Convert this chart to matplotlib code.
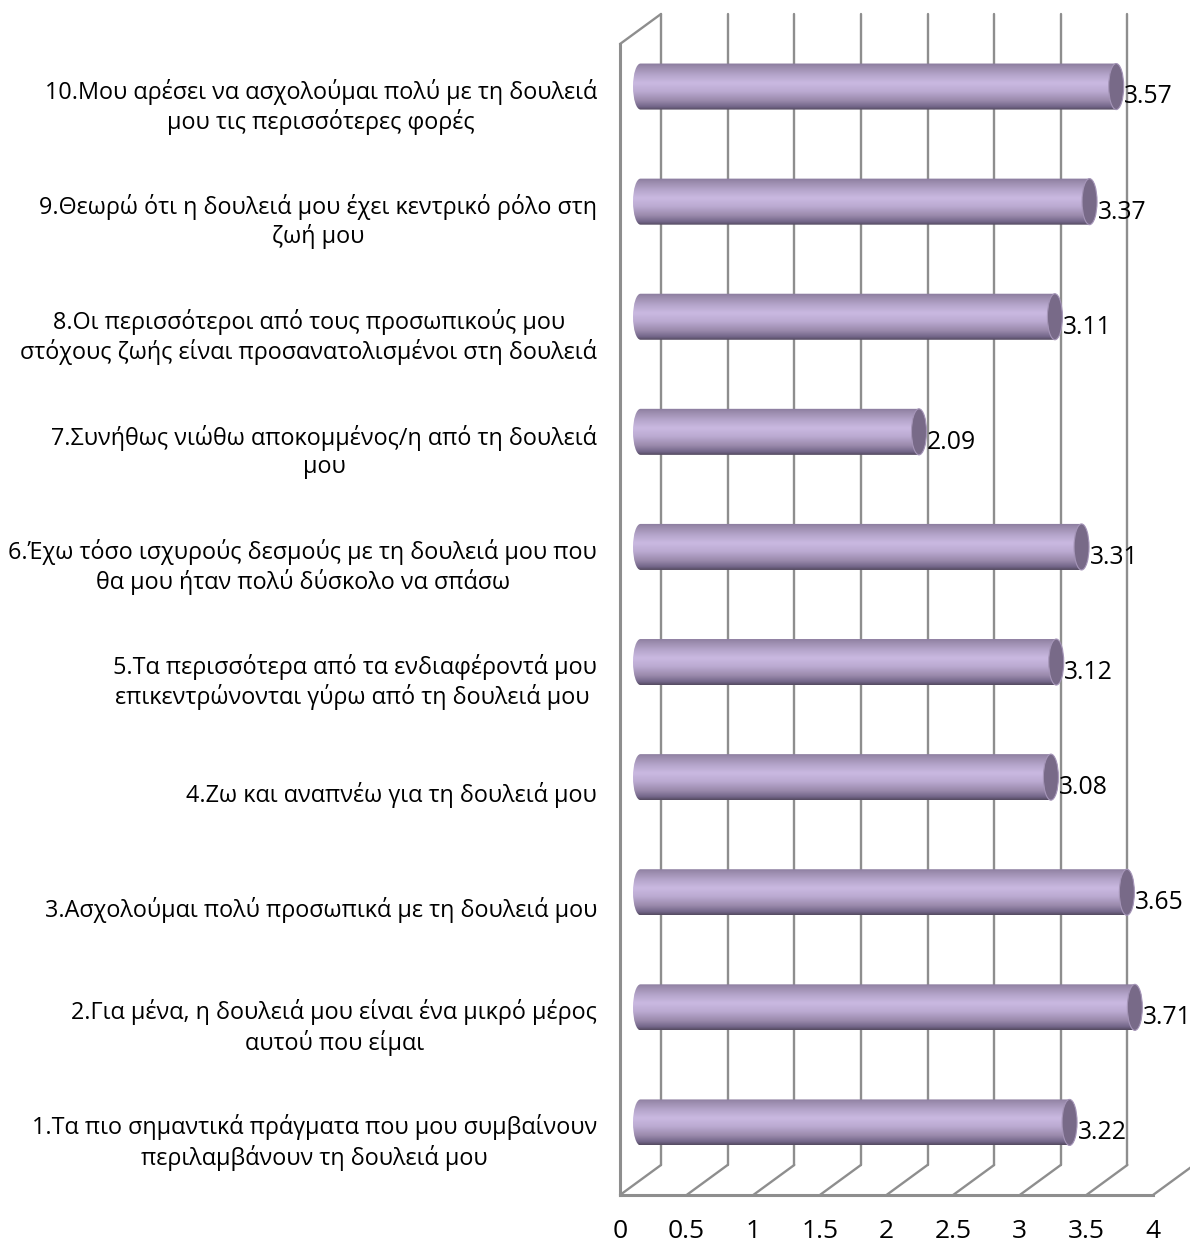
import numpy as np
import matplotlib
matplotlib.use('Agg')
import matplotlib.pyplot as plt
from matplotlib.colors import LinearSegmentedColormap
from matplotlib.patches import Ellipse, PathPatch
from matplotlib.path import Path

labels = [
    "1.Τα πιο σημαντικά πράγματα που μου συμβαίνουν\nπεριλαμβάνουν τη δουλειά μου",
    "2.Για μένα, η δουλειά μου είναι ένα μικρό μέρος\nαυτού που είμαι",
    "3.Ασχολούμαι πολύ προσωπικά με τη δουλειά μου",
    "4.Ζω και αναπνέω για τη δουλειά μου",
    "5.Τα περισσότερα από τα ενδιαφέροντά μου\nεπικεντρώνονται γύρω από τη δουλειά μου ",
    "6.Έχω τόσο ισχυρούς δεσμούς με τη δουλειά μου που\nθα μου ήταν πολύ δύσκολο να σπάσω",
    "7.Συνήθως νιώθω αποκομμένος/η από τη δουλειά\nμου",
    "8.Οι περισσότεροι από τους προσωπικούς μου\nστόχους ζωής είναι προσανατολισμένοι στη δουλειά",
    "9.Θεωρώ ότι η δουλειά μου έχει κεντρικό ρόλο στη\nζωή μου",
    "10.Μου αρέσει να ασχολούμαι πολύ με τη δουλειά\nμου τις περισσότερες φορές",
]
values = [3.22, 3.71, 3.65, 3.08, 3.12, 3.31, 2.09, 3.11, 3.37, 3.57]
x_ticks = [0, 0.5, 1, 1.5, 2, 2.5, 3, 3.5, 4]
x_ticklabels = ['0', '0.5', '1', '1.5', '2', '2.5', '3', '3.5', '4']

W, H = 1190, 1246
plt.rcParams['font.family'] = ['Open Sans', 'DejaVu Sans']

fig = plt.figure(figsize=(W / 100, H / 100), dpi=100, facecolor='white')
# axes box is the front plane of the fake 3d chart
ax = fig.add_axes([620 / W, (H - 1195) / H, 533 / W, 1151 / H], facecolor='none')

# depth of the 3d box in data units
depth_x = 41 / 133.25
depth_y = 30 / 115.1
ymin, ymax = -0.5, 9.5
grid = '#8e8e8e'
gridkw = dict(color=grid, lw=1.7, clip_on=False, zorder=1, solid_capstyle='round')

# walls and floor
for t in x_ticks:
    ax.plot([t, t + depth_x], [ymin, ymin + depth_y], **gridkw)
    if t < 4:
        ax.plot([t + depth_x, t + depth_x], [ymin + depth_y, ymax + depth_y], **gridkw)
ax.plot([0, 4], [ymin, ymin], color=grid, lw=2.2, clip_on=False, zorder=1)
ax.plot([0, 0], [ymin, ymax], color=grid, lw=2.2, clip_on=False, zorder=1)
ax.plot([0, depth_x], [ymax, ymax + depth_y], **gridkw)

# cylinder shading, top to bottom
cyl = LinearSegmentedColormap.from_list('cyl', [
    (0.0, '#8a7b9e'), (0.08, '#9a8bac'), (0.25, '#b5a5cb'), (0.42, '#cab9e1'),
    (0.6, '#bcabd2'), (0.8, '#9a8aac'), (0.93, '#74678a'), (1.0, '#544a60')])
shade = np.linspace(0, 1, 128).reshape(-1, 1)

half_h = 0.2
half_w = 7.5 / 133.25
for i, v in enumerate(values):
    x0 = depth_x / 2
    x1 = v + depth_x / 2
    yc = i + depth_y / 2
    im = ax.imshow(shade, cmap=cyl, aspect='auto', zorder=3, clip_on=True,
                   extent=[x0 - half_w, x1 + half_w, yc - half_h, yc + half_h])
    # body outline with a rounded left end
    k = 0.5523
    verts = [(x1, yc + half_h), (x0, yc + half_h),
             (x0 - k * half_w, yc + half_h), (x0 - half_w, yc + k * half_h), (x0 - half_w, yc),
             (x0 - half_w, yc - k * half_h), (x0 - k * half_w, yc - half_h), (x0, yc - half_h),
             (x1, yc - half_h), (x1, yc + half_h)]
    codes = [Path.MOVETO, Path.LINETO, Path.CURVE4, Path.CURVE4, Path.CURVE4,
             Path.CURVE4, Path.CURVE4, Path.CURVE4, Path.LINETO, Path.CLOSEPOLY]
    body = PathPatch(Path(verts, codes), transform=ax.transData, fc='none', ec='none')
    ax.add_patch(body)
    im.set_clip_path(body)
    cap = Ellipse((x1, yc), 2 * half_w, 2 * half_h, fc='#786a88', ec='#a595b8', lw=0.8,
                  zorder=4, clip_on=False)
    ax.add_patch(cap)
    ax.annotate(f'{v:.2f}', (x1 + half_w, yc), xytext=(0.5, -7.5), textcoords='offset points',
                ha='left', va='center', fontsize=17.8, color='black', zorder=5,
                annotation_clip=False)

ax.set_xlim(0, 4)
ax.set_ylim(ymin, ymax)
ax.set_xticks(x_ticks)
ax.set_xticklabels(x_ticklabels, fontsize=19)
ax.set_yticks(range(len(labels)))
ax.set_yticklabels(labels, fontsize=16.85, ha='right', ma='center', linespacing=1.22)
ax.tick_params(axis='x', length=0, pad=17)
ax.tick_params(axis='y', length=0, pad=16.5)
for s in ax.spines.values():
    s.set_visible(False)

fig.savefig('out.png', dpi=100)
